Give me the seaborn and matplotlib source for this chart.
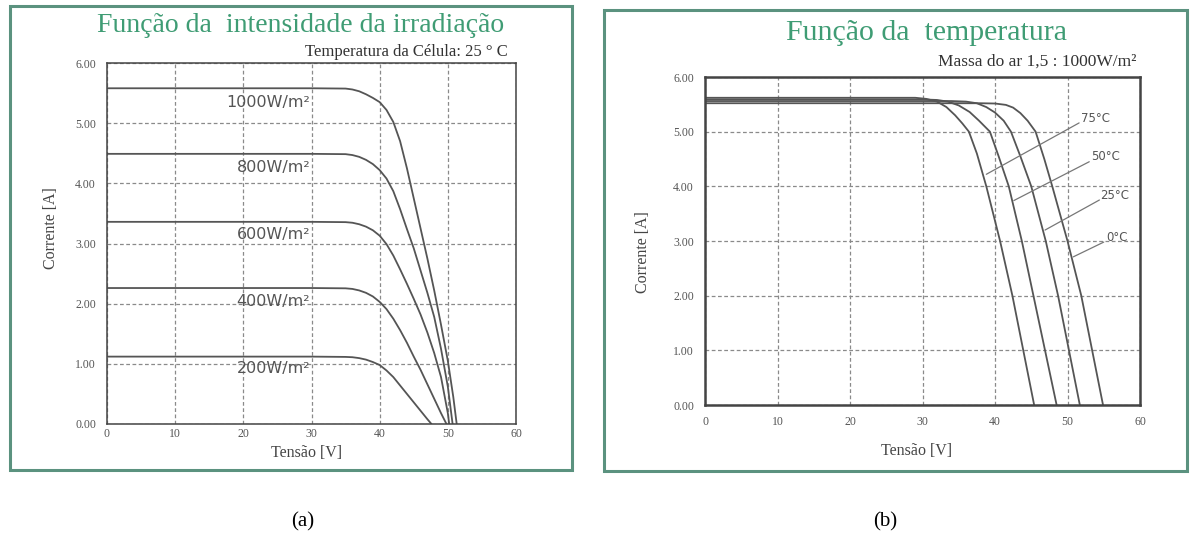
import numpy as np
import pandas as pd
import matplotlib
matplotlib.use("Agg")
import matplotlib.pyplot as plt
from matplotlib.patches import Rectangle
import seaborn as sns

# ---------------- data ----------------
# (a) irradiance curves, 25 C
irr_labels = ["1000W/m²", "800W/m²", "600W/m²", "400W/m²", "200W/m²"]
irr_v_1000 = [0, 30, 35, 36, 37, 38, 39, 40, 41, 42, 43, 44, 45, 46, 47, 48, 49, 50, 50.8, 51.3]
irr_i_1000 = [5.58, 5.58, 5.575, 5.56, 5.53, 5.48, 5.42, 5.35, 5.22, 5.02, 4.70, 4.25, 3.75, 3.25, 2.75, 2.22, 1.65, 1.05, 0.45, 0.0]
irr_v_800 = [0, 30, 35, 36, 37, 38, 39, 40, 41, 42, 43, 44, 45, 46, 47, 48, 49, 50, 50.7]
irr_i_800 = [4.49, 4.49, 4.485, 4.47, 4.44, 4.39, 4.32, 4.22, 4.08, 3.87, 3.57, 3.24, 2.92, 2.55, 2.18, 1.78, 1.25, 0.62, 0.0]
irr_v_600 = [0, 30, 35, 36, 37, 38, 39, 40, 41, 42, 43, 44, 45, 46, 47, 48, 49, 50, 50.2]
irr_i_600 = [3.36, 3.36, 3.355, 3.345, 3.32, 3.28, 3.22, 3.13, 2.99, 2.80, 2.57, 2.33, 2.08, 1.82, 1.52, 1.18, 0.78, 0.18, 0.0]
irr_v_400 = [0, 30, 35, 36, 37, 38, 39, 40, 41, 42, 43, 44, 45, 46, 47, 48, 49, 49.8]
irr_i_400 = [2.26, 2.26, 2.255, 2.245, 2.22, 2.18, 2.12, 2.03, 1.91, 1.75, 1.56, 1.35, 1.12, 0.90, 0.66, 0.42, 0.18, 0.0]
irr_v_200 = [0, 30, 35, 36, 37, 38, 39, 40, 41, 42, 43, 44, 45, 46, 47, 47.6]
irr_i_200 = [1.12, 1.12, 1.115, 1.11, 1.095, 1.07, 1.03, 0.98, 0.89, 0.78, 0.64, 0.50, 0.36, 0.22, 0.08, 0.0]
irr_label_y = [5.34, 4.27, 3.15, 2.04, 0.93]

# (b) temperature curves, 1000 W/m2
temp_labels = ["75°C", "50°C", "25°C", "0°C"]
t_v_75 = [0, 29, 30.5, 32, 33.3, 34.5, 35.5, 36.4, 37.5, 38.8, 40.7, 42.4, 43.9, 45.4]
t_i_75 = [5.62, 5.62, 5.60, 5.55, 5.45, 5.30, 5.15, 5.00, 4.60, 4.00, 3.00, 2.00, 1.00, 0.0]
t_v_50 = [0, 30, 32, 33.5, 35, 36.5, 37.8, 39.3, 40.5, 41.9, 43.7, 45.3, 46.9, 48.5]
t_i_50 = [5.59, 5.59, 5.58, 5.55, 5.48, 5.36, 5.20, 5.00, 4.55, 4.00, 3.00, 2.00, 1.00, 0.0]
t_v_25 = [0, 34, 36, 37.5, 38.8, 40, 41.2, 42.2, 43.5, 45.0, 47.0, 48.7, 50.2, 51.7]
t_i_25 = [5.56, 5.56, 5.55, 5.52, 5.45, 5.35, 5.20, 5.00, 4.55, 4.00, 3.00, 2.00, 1.00, 0.0]
t_v_0 = [0, 38, 40, 41.5, 42.5, 43.5, 44.5, 45.6, 46.8, 47.9, 50.0, 51.9, 53.4, 54.9]
t_i_0 = [5.52, 5.52, 5.515, 5.49, 5.44, 5.34, 5.20, 5.00, 4.50, 4.00, 3.00, 2.00, 1.00, 0.0]

x_ticks = [0, 10, 20, 30, 40, 50, 60]
y_ticks = [0, 1, 2, 3, 4, 5, 6]
y_tick_labels = ["0.00", "1.00", "2.00", "3.00", "4.00", "5.00", "6.00"]

# ---------------- style ----------------
sns.set_theme(style="white")
plt.rcParams["font.family"] = ["Liberation Serif", "DejaVu Serif"]

GREEN = "#3f9c74"
FRAME = "#5b927f"
CURVE = "#555555"
GRID = "#8a8a8a"

fig = plt.figure(figsize=(11.92, 5.39), dpi=100)

def frame(x0, y0, x1, y1):
    W, H = 1192, 539
    fig.patches.append(Rectangle((x0 / W, 1 - y1 / H), (x1 - x0) / W, (y1 - y0) / H,
                                 transform=fig.transFigure, fill=False,
                                 edgecolor=FRAME, linewidth=2.2, zorder=0))

def px_axes(x0, y0, x1, y1):
    W, H = 1192, 539
    return fig.add_axes([x0 / W, 1 - y1 / H, (x1 - x0) / W, (y1 - y0) / H])

frame(10, 6, 572, 470)
frame(604, 10, 1187, 471)

def style_axes(ax, spine_w, ypad, xpad):
    ax.set_xlim(0, 60)
    ax.set_ylim(0, 6)
    ax.set_xticks(x_ticks)
    ax.set_yticks(y_ticks)
    ax.set_xticklabels([str(t) for t in x_ticks])
    ax.set_yticklabels(y_tick_labels)
    ax.tick_params(axis="both", length=0, labelsize=8.5, labelcolor="#555555")
    ax.tick_params(axis="y", pad=ypad)
    ax.tick_params(axis="x", pad=xpad)
    ax.grid(True, color=GRID, linestyle=(0, (3, 2)), linewidth=0.9)
    for s in ax.spines.values():
        s.set_visible(True)
        s.set_color("#444444")
        s.set_linewidth(spine_w)
    ax.set_facecolor("white")

# ---------- (a) ----------
ax1 = px_axes(107, 63, 516, 424)
irr_sets = [(irr_v_1000, irr_i_1000), (irr_v_800, irr_i_800), (irr_v_600, irr_i_600),
            (irr_v_400, irr_i_400), (irr_v_200, irr_i_200)]
df1 = pd.concat([pd.DataFrame({"V": v, "I": i, "curve": lab})
                 for (v, i), lab in zip(irr_sets, irr_labels)], ignore_index=True)
sns.lineplot(data=df1, x="V", y="I", hue="curve", units="curve", estimator=None, sort=False,
             palette=[CURVE] * len(irr_labels), legend=False, linewidth=1.3, ax=ax1)
style_axes(ax1, 1.1, 8, 3)
for lab, y in zip(irr_labels, irr_label_y):
    ax1.text(29.8, y, lab, ha="right", va="center", fontsize=11.5, color="#555555",
             family="DejaVu Sans", zorder=5)
ax1.set_xlabel("Tensão [V]", fontsize=11.5, color="#444444")
ax1.set_ylabel("Corrente [A]", fontsize=11.5, color="#444444")
ax1.xaxis.set_label_coords(0.489, -0.058)
ax1.yaxis.set_label_coords(-0.117, 0.543)
fig.text(301 / 1192, 1 - 25 / 539, "Função da  intensidade da irradiação", ha="center",
         va="center", fontsize=20, color=GREEN)
fig.text(508 / 1192, 1 - 52 / 539, "Temperatura da Célula: 25 ° C", ha="right",
         va="center", fontsize=12, color="#333333")

# ---------- (b) ----------
ax2 = px_axes(705, 77, 1140, 405)
temp_sets = [(t_v_75, t_i_75), (t_v_50, t_i_50), (t_v_25, t_i_25), (t_v_0, t_i_0)]
df2 = pd.concat([pd.DataFrame({"V": v, "I": i, "curve": lab})
                 for (v, i), lab in zip(temp_sets, temp_labels)], ignore_index=True)
sns.lineplot(data=df2, x="V", y="I", hue="curve", units="curve", estimator=None, sort=False,
             palette=[CURVE] * len(temp_labels), legend=False, linewidth=1.3, ax=ax2)
style_axes(ax2, 1.8, 8, 8)
leaders = [((38.8, 4.22), (51.6, 5.16), (51.8, 5.24)),
           ((42.6, 3.74), (53.0, 4.45), (53.2, 4.54)),
           ((46.9, 3.20), (54.4, 3.75), (54.5, 3.83)),
           ((50.8, 2.71), (55.0, 2.98), (55.3, 3.07))]
for lab, (p0, p1, tp) in zip(temp_labels, leaders):
    ax2.plot([p0[0], p1[0]], [p0[1], p1[1]], color="#777777", linewidth=0.9)
    ax2.text(tp[0], tp[1], lab, ha="left", va="center", fontsize=8.5, color="#555555",
             family="DejaVu Sans")
ax2.set_xlabel("Tensão [V]", fontsize=11.5, color="#444444")
ax2.set_ylabel("Corrente [A]", fontsize=11.5, color="#444444")
ax2.xaxis.set_label_coords(0.487, -0.116)
ax2.yaxis.set_label_coords(-0.124, 0.466)
fig.text(926 / 1192, 1 - 33 / 539, "Função da  temperatura", ha="center",
         va="center", fontsize=21.5, color=GREEN)
fig.text(1136 / 1192, 1 - 62 / 539, "Massa do ar 1,5 : 1000W/m²", ha="right",
         va="center", fontsize=12.5, color="#333333")

# panel captions
fig.text(303 / 1192, 1 - 522 / 539, "(a)", ha="center", va="center", fontsize=15, color="black")
fig.text(885 / 1192, 1 - 522 / 539, "(b)", ha="center", va="center", fontsize=15, color="black")

fig.savefig("out.png", dpi=100)
